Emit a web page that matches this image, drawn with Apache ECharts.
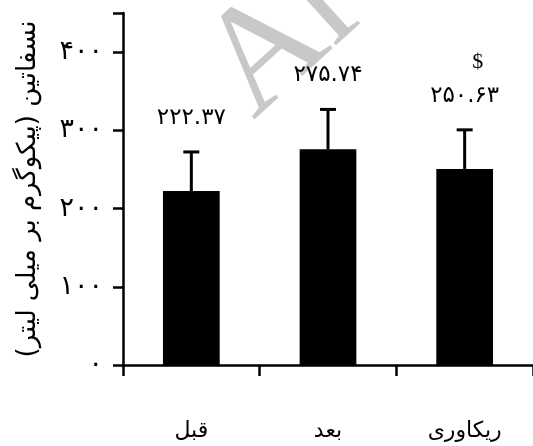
<!DOCTYPE html>
<html lang="fa">

<head>
    <meta charset="UTF-8">
    <title>Nesfatin chart</title>
    <script src="https://cdn.jsdelivr.net/npm/echarts@6/dist/echarts.min.js"></script>
    <style>
        html, body { margin: 0; padding: 0; background: #fff; }
    </style>
</head>

<body>
    <div id="main" style="width: 533px;height: 446px;"></div>

    <script type="text/javascript">
        // data
        var categories = ['قبل', 'بعد', 'ریکاوری'];
        var means = [222.37, 275.74, 250.63];
        var sds = [50, 51, 50];
        var marks = ['', '', '$'];
        var yTicks = [0, 100, 200, 300, 400];

        // western digits -> persian digits
        function fa(s) {
            return String(s).replace(/\d/g, function (d) { return '۰۱۲۳۴۵۶۷۸۹'[d]; });
        }

        var font = 'DejaVu Sans';
        var errData = means.map(function (m, i) { return [i, m, sds[i]]; });

        var myChart = echarts.init(document.getElementById('main'));
        var option = {
            animation: false,
            backgroundColor: '#fff',
            grid: { left: 123, right: 0, top: 13, bottom: 81, containLabel: false, outerBoundsMode: 'none' },
            // grey watermark behind the chart
            graphic: [{
                type: 'text',
                x: 227,
                y: 91,
                rotation: Math.PI * 0.235,
                z: 0,
                style: {
                    text: 'Archive of SID',
                    font: '150px "Liberation Serif"',
                    fill: '#c8c8c8',
                    textAlign: 'left',
                    textVerticalAlign: 'middle'
                }
            }],
            xAxis: {
                type: 'category',
                data: categories,
                boundaryGap: true,
                axisLine: { lineStyle: { color: '#000', width: 2.5 } },
                axisTick: { show: true, length: 11, lineStyle: { color: '#000', width: 2.5 } },
                axisLabel: { color: '#000', fontSize: 22, fontFamily: font, margin: 55 }
            },
            yAxis: {
                type: 'value',
                min: 0,
                max: 450,
                interval: 100,
                name: '\u200Fنسفاتین (پیکوگرم بر میلی لیتر)\u200F',
                nameLocation: 'middle',
                nameRotate: 90,
                nameGap: 82,
                nameTextStyle: { color: '#000', fontSize: 26, fontFamily: font },
                splitLine: { show: false },
                axisLine: { show: true, lineStyle: { color: '#000', width: 2.5 } },
                axisTick: { show: true, length: 10, lineStyle: { color: '#000', width: 2.5 } },
                axisLabel: {
                    color: '#000', fontSize: 27, fontFamily: font, margin: 20,
                    formatter: function (v) { return yTicks.indexOf(v) >= 0 ? fa(v) : ''; }
                }
            },
            series: [{
                type: 'bar',
                data: means,
                barWidth: '41.5%',
                itemStyle: { color: '#000' },
                z: 3
            }, {
                type: 'custom',
                data: errData,
                z: 4,
                renderItem: function (params, api) {
                    var i = api.value(0);
                    var m = api.value(1);
                    var s = api.value(2);
                    var base = api.coord([i, m]);
                    var top = api.coord([i, m + s]);
                    var st = { stroke: '#000', lineWidth: 3 };
                    var kids = [
                        { type: 'line', shape: { x1: base[0], y1: base[1], x2: top[0], y2: top[1] }, style: st },
                        { type: 'line', shape: { x1: top[0] - 8, y1: top[1], x2: top[0] + 8, y2: top[1] }, style: st },
                        {
                            type: 'text', x: top[0], y: top[1] - 34,
                            style: { text: fa(m.toFixed(2)), fill: '#000', font: '23px "' + font + '"', textAlign: 'center', textVerticalAlign: 'middle' }
                        }
                    ];
                    if (marks[params.dataIndex]) {
                        kids.push({
                            type: 'text', x: top[0] + 13, y: top[1] - 68,
                            style: { text: marks[params.dataIndex], fill: '#000', font: '22px "Liberation Serif"', textAlign: 'center', textVerticalAlign: 'middle' }
                        });
                    }
                    return { type: 'group', children: kids };
                }
            }]
        };
        myChart.setOption(option);
    </script>
</body>

</html>
